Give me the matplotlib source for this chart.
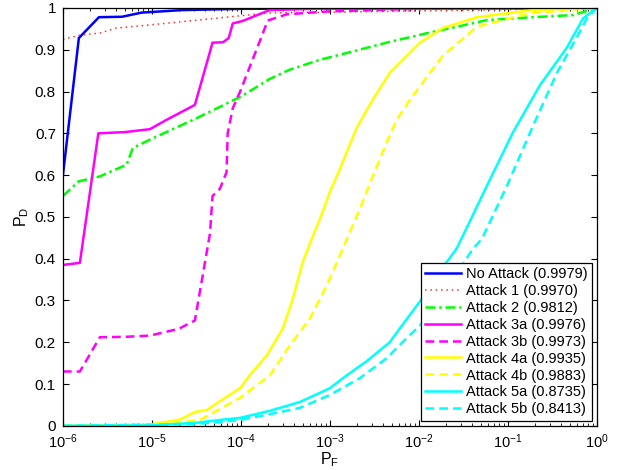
import matplotlib
matplotlib.use('Agg')
from matplotlib import pyplot as plt
from matplotlib.ticker import LogLocator, NullFormatter

plt.rcParams['font.family'] = ['Liberation Sans', 'DejaVu Sans']
plt.rcParams['mathtext.fontset'] = 'custom'
plt.rcParams['mathtext.rm'] = 'Liberation Sans'
plt.rcParams['mathtext.it'] = 'Liberation Sans:italic'

# ROC curves: false alarm prob (PF) vs detection prob (PD)
pf_none = [1e-6, 1.51e-6, 2.54e-6, 4.6e-6, 7.7e-6, 2.2e-5, 1e-4, 1e-3, 1.0]
pd_none = [0.60, 0.928, 0.978, 0.979, 0.989, 0.995, 0.998, 0.999, 1.0]

pf_a1 = [1e-6, 1.55e-6, 2.6e-6, 4e-6, 1e-5, 5e-5, 2e-4, 1e-3, 1e-2, 1e-1, 1.0]
pd_a1 = [0.925, 0.935, 0.94, 0.952, 0.96, 0.975, 0.988, 0.99, 0.993, 0.996, 1.0]

pf_a2 = [1e-6, 1.5e-6, 2.6e-6, 5.2e-6, 6.1e-6, 9.5e-6, 2.5e-5, 3.3e-5, 1e-4,
         2.1e-4, 3.5e-4, 7.7e-4, 1.29e-3, 4.72e-3, 0.0144, 0.0267, 0.058,
         0.191, 0.537, 1.0]
pd_a2 = [0.55, 0.585, 0.597, 0.625, 0.665, 0.685, 0.726, 0.738, 0.788,
         0.83, 0.852, 0.876, 0.888, 0.919, 0.943, 0.955, 0.971,
         0.978, 0.983, 1.0]

pf_a3a = [1e-6, 1.55e-6, 2.5e-6, 5e-6, 9.5e-6, 1.48e-5, 3.04e-5, 4.8e-5,
          6.3e-5, 7.3e-5, 8.1e-5, 1.05e-4, 2.1e-4, 1e-3, 1.0]
pd_a3a = [0.385, 0.39, 0.70, 0.703, 0.71, 0.733, 0.768, 0.917,
          0.918, 0.928, 0.963, 0.969, 0.995, 0.999, 1.0]

pf_a3b = [1e-6, 1.55e-6, 2.6e-6, 5e-6, 9.5e-6, 2e-5, 3.04e-5, 4.49e-5, 4.8e-5,
          5.8e-5, 6.9e-5, 7.1e-5, 8.1e-5, 9.8e-5, 1.77e-4, 2.0e-4, 3.3e-4,
          1e-3, 1e-2, 1.0]
pd_a3b = [0.13, 0.13, 0.212, 0.213, 0.216, 0.232, 0.252, 0.46, 0.55,
          0.567, 0.607, 0.70, 0.76, 0.80, 0.94, 0.97, 0.985,
          0.992, 0.998, 1.0]

pf_a4a = [1e-6, 9.5e-6, 2.07e-5, 3.04e-5, 4.15e-5, 5.8e-5, 9.8e-5, 1.26e-4,
          1.96e-4, 2.96e-4, 3.84e-4, 4.97e-4, 6.28e-4, 8.13e-4, 1e-3,
          1.29e-3, 2.01e-3, 3.04e-3, 4.72e-3, 0.0103, 0.0186, 0.0449,
          0.126, 0.191, 1.0]
pd_a4a = [0.0, 0.003, 0.015, 0.033, 0.038, 0.059, 0.09, 0.121,
          0.169, 0.233, 0.305, 0.393, 0.448, 0.507, 0.56,
          0.614, 0.714, 0.781, 0.845, 0.917, 0.952, 0.978,
          0.99, 0.995, 1.0]

pf_a4b = [1e-6, 9.5e-6, 3.46e-5, 9.8e-5, 2.12e-4, 3.56e-4, 5.96e-4, 9.24e-4,
          1.29e-3, 1.68e-3, 2.17e-3, 3.04e-3, 4.36e-3, 5.66e-3, 7.9e-3,
          0.0186, 0.0449, 0.0975, 0.191, 0.46, 1.0]
pd_a4b = [0.0, 0.0, 0.014, 0.067, 0.121, 0.193, 0.257, 0.336,
          0.407, 0.464, 0.519, 0.598, 0.679, 0.733, 0.78,
          0.886, 0.955, 0.974, 0.988, 0.995, 1.0]

pf_a5a = [1e-6, 9.5e-6, 3.04e-5, 5.8e-5, 9.8e-5, 2.12e-4, 4.6e-4, 1e-3,
          1.4e-3, 2.6e-3, 4.7e-3, 6.1e-3, 0.0103, 0.0172, 0.0267, 0.0347,
          0.058, 0.114, 0.229, 0.46, 0.70, 1.0]
pd_a5a = [0.0, 0.001, 0.007, 0.014, 0.019, 0.036, 0.057, 0.09,
          0.114, 0.155, 0.2, 0.233, 0.298, 0.369, 0.425, 0.475,
          0.574, 0.702, 0.815, 0.905, 0.975, 1.0]

pf_a5b = [1e-6, 3.04e-5, 9.8e-5, 2.12e-4, 4.6e-4, 1e-3, 2.17e-3, 4.36e-3,
          7.3e-3, 0.0103, 0.0172, 0.0289, 0.0405, 0.051, 0.0975, 0.191,
          0.356, 0.596, 0.773, 1.0]
pd_a5b = [0.0, 0.004, 0.014, 0.028, 0.043, 0.074, 0.114, 0.162,
          0.21, 0.24, 0.312, 0.376, 0.424, 0.447, 0.574, 0.717,
          0.845, 0.93, 0.975, 1.0]

labels = ['No Attack (0.9979)', 'Attack 1 (0.9970)', 'Attack 2 (0.9812)',
          'Attack 3a (0.9976)', 'Attack 3b (0.9973)', 'Attack 4a (0.9935)',
          'Attack 4b (0.9883)', 'Attack 5a (0.8735)', 'Attack 5b (0.8413)']
yticks = [0, 0.1, 0.2, 0.3, 0.4, 0.5, 0.6, 0.7, 0.8, 0.9, 1]
yticklabels = ['0', '0.1', '0.2', '0.3', '0.4', '0.5', '0.6', '0.7', '0.8', '0.9', '1']
xticks = [1e-6, 1e-5, 1e-4, 1e-3, 1e-2, 1e-1, 1e0]

dash = (0, (3.5, 2))
dashdot = (0, (4, 1.5, 1, 1.5))
lw = 1.8

fig = plt.figure(figsize=(6.23, 4.7), dpi=100)
ax = fig.add_axes([0.101, 0.094, 0.857, 0.889])

ax.semilogx(pf_none, pd_none, color='#0000ff', lw=lw, label=labels[0])
ax.semilogx(pf_a1, pd_a1, color='#ff3030', lw=1.1, ls=(0, (1, 2.5)), label=labels[1])
ax.semilogx(pf_a2, pd_a2, color='#00ff00', lw=lw, ls=dashdot, label=labels[2])
ax.semilogx(pf_a3a, pd_a3a, color='#ff00ff', lw=lw, label=labels[3])
ax.semilogx(pf_a3b, pd_a3b, color='#ff00ff', lw=lw, ls=dash, label=labels[4])
ax.semilogx(pf_a4a, pd_a4a, color='#ffff00', lw=lw, label=labels[5])
ax.semilogx(pf_a4b, pd_a4b, color='#ffff00', lw=lw, ls=dash, label=labels[6])
ax.semilogx(pf_a5a, pd_a5a, color='#00ffff', lw=lw, label=labels[7])
ax.semilogx(pf_a5b, pd_a5b, color='#00ffff', lw=lw, ls=dash, label=labels[8])

ax.set_xlim(1e-6, 1)
ax.set_ylim(0, 1)
ax.set_xticks(xticks)
ax.xaxis.set_minor_locator(LogLocator(base=10, subs=range(2, 10), numticks=20))
ax.xaxis.set_minor_formatter(NullFormatter())
ax.set_yticks(yticks)
ax.set_yticklabels(yticklabels)
ax.tick_params(which='both', direction='in', top=True, right=True, labelsize=11)
ax.tick_params(which='major', length=4, width=0.8)
ax.tick_params(which='minor', length=2.2, width=0.6)
ax.tick_params(axis='x', which='major', pad=5, labelsize=10.5)
ax.tick_params(axis='y', which='major', pad=5)
for s in ax.spines.values():
    s.set_linewidth(0.9)

# P_F sits right on the bottom edge of the figure
ax.set_xlabel(r'$\mathregular{P_F}$', fontsize=11.5, va='bottom')
ax.xaxis.set_label_coords(0.5, -0.104)
ax.set_ylabel(r'$\mathregular{P_D}$', fontsize=11.5, labelpad=3)

leg = ax.legend(loc='lower right', fontsize=10.5, fancybox=False, framealpha=1,
                edgecolor='black', borderaxespad=0.35, labelspacing=0.2,
                handlelength=2.5, handletextpad=0.3, borderpad=0.3)
leg.get_frame().set_linewidth(0.9)

fig.savefig('out.png', dpi=100)
